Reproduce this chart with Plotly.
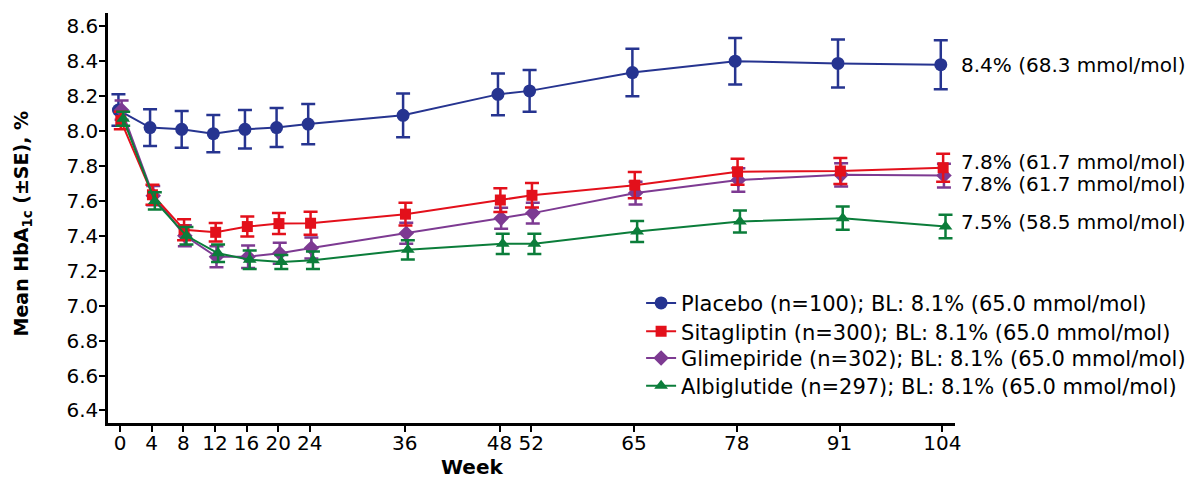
import plotly.graph_objects as go

weeks = [0, 4, 8, 12, 16, 20, 24, 36, 48, 52, 65, 78, 91, 104]
tick_labels = [str(w) for w in weeks]

series_names = [
    "Placebo (n=100); BL: 8.1% (65.0 mmol/mol)",
    "Sitagliptin (n=300); BL: 8.1% (65.0 mmol/mol)",
    "Glimepiride (n=302); BL: 8.1% (65.0 mmol/mol)",
    "Albiglutide (n=297); BL: 8.1% (65.0 mmol/mol)",
]

placebo_mean = [8.12, 8.02, 8.01, 7.985, 8.01, 8.02, 8.04, 8.09, 8.21, 8.23, 8.335, 8.40, 8.387, 8.38]
placebo_se = [0.09, 0.105, 0.105, 0.107, 0.11, 0.112, 0.115, 0.125, 0.12, 0.12, 0.136, 0.133, 0.137, 0.14]

sitagliptin_mean = [8.06, 7.635, 7.435, 7.42, 7.453, 7.47, 7.472, 7.524, 7.605, 7.632, 7.69, 7.767, 7.771, 7.79]
sitagliptin_se = [0.05, 0.057, 0.06, 0.053, 0.057, 0.06, 0.066, 0.065, 0.068, 0.07, 0.075, 0.075, 0.075, 0.08]

glimepiride_mean = [8.12, 7.63, 7.40, 7.28, 7.28, 7.30, 7.33, 7.415, 7.50, 7.53, 7.645, 7.72, 7.749, 7.745]
glimepiride_se = [0.055, 0.055, 0.06, 0.06, 0.065, 0.06, 0.06, 0.06, 0.06, 0.06, 0.065, 0.067, 0.067, 0.068]

albiglutide_mean = [8.07, 7.60, 7.40, 7.30, 7.263, 7.25, 7.26, 7.32, 7.354, 7.354, 7.425, 7.482, 7.501, 7.453]
albiglutide_se = [0.04, 0.05, 0.05, 0.05, 0.053, 0.04, 0.05, 0.055, 0.058, 0.058, 0.06, 0.063, 0.067, 0.067]

end_labels = ["8.4% (68.3 mmol/mol)", "7.8% (61.7 mmol/mol)", "7.8% (61.7 mmol/mol)", "7.5% (58.5 mmol/mol)"]
end_label_y = [8.38, 7.825, 7.695, 7.48]

y_ticks = [6.4, 6.6, 6.8, 7.0, 7.2, 7.4, 7.6, 7.8, 8.0, 8.2, 8.4, 8.6]

colors = ["#263490", "#E3101B", "#7D3A92", "#0B7D3A"]
symbols = ["circle", "square", "diamond", "triangle-up"]
msizes = [13, 11, 12, 12]
dodge = [-0.2, 0.1, 0.2, 0.4]
legend_ids = ["legend", "legend2", "legend3", "legend4"]
legend_y = [0.2919, 0.2227, 0.1578, 0.0902]

means = [placebo_mean, sitagliptin_mean, glimepiride_mean, albiglutide_mean]
ses = [placebo_se, sitagliptin_se, glimepiride_se, albiglutide_se]

FONT = "DejaVu Sans"

fig = go.Figure()
draw_order = [0, 2, 1, 3]
for i in draw_order:
    fig.add_trace(go.Scatter(
        x=[w + dodge[i] for w in weeks],
        y=means[i],
        mode="lines+markers",
        name=series_names[i],
        legend=legend_ids[i],
        line=dict(color=colors[i], width=2),
        marker=dict(symbol=symbols[i], size=msizes[i], color=colors[i], line=dict(width=0)),
        error_y=dict(type="data", array=ses[i], visible=True, color=colors[i], thickness=2.5, width=7),
    ))

for lbl, yy in zip(end_labels, end_label_y):
    fig.add_annotation(x=104, y=yy, xref="x", yref="y", text=lbl, showarrow=False,
                       xanchor="left", yanchor="middle", xshift=17,
                       font=dict(family=FONT, size=20, color="black"))

fig.add_annotation(x=-0.1004, y=0.4866, xref="paper", yref="paper",
                   text="<b>Mean HbA<sub>1c</sub> (±SE), %</b>", textangle=-90,
                   showarrow=False, xanchor="center", yanchor="middle",
                   font=dict(family=FONT, size=19, color="black"))
fig.add_annotation(x=0.4298, y=-0.1073, xref="paper", yref="paper",
                   text="<b>Week</b>", showarrow=False, xanchor="center", yanchor="middle",
                   font=dict(family=FONT, size=20, color="black"))

legend_layouts = {}
for lid, ly in zip(legend_ids, legend_y):
    legend_layouts[lid] = dict(x=0.6294, y=ly, xanchor="left", yanchor="middle",
                               font=dict(family=FONT, size=21, color="black"),
                               bgcolor="rgba(0,0,0,0)", itemwidth=30)

fig.update_layout(
    width=1189, height=471,
    margin=dict(l=100, r=242, t=5, b=56, autoexpand=False),
    paper_bgcolor="white", plot_bgcolor="white",
    font=dict(family=FONT, size=20, color="black"),
    showlegend=True,
    xaxis=dict(range=[-1.52, 105.6], tickmode="array", tickvals=weeks, ticktext=tick_labels,
               showline=True, linecolor="black", linewidth=2.5, ticks="outside",
               ticklen=6, tickwidth=2, tickcolor="black", showgrid=False, zeroline=False,
               ticklabelstandoff=-6, automargin=False,
               tickfont=dict(family=FONT, size=20, color="black")),
    yaxis=dict(range=[6.328, 8.676], tickmode="array",
               tickvals=y_ticks, ticktext=[f"{v:.1f}" for v in y_ticks],
               showline=True, linecolor="black", linewidth=2.5, ticks="outside",
               ticklen=6, tickwidth=2, tickcolor="black", showgrid=False, zeroline=False,
               ticklabelstandoff=-3, automargin=False,
               tickfont=dict(family=FONT, size=20, color="black")),
    **legend_layouts,
)

fig.write_html("out.html")
